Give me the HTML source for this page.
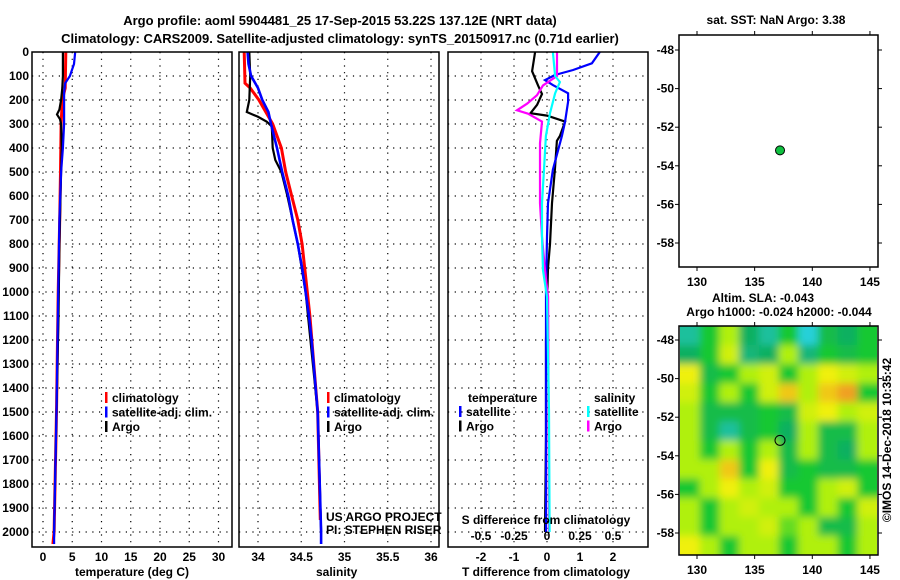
<!DOCTYPE html>
<html><head><meta charset="utf-8"><style>
html,body{margin:0;padding:0;background:#fff;}
svg{display:block;font-family:"Liberation Sans",Arial,sans-serif;}
.b{font-weight:bold;font-size:12px;}
.t{font-weight:bold;font-size:13px;}
</style></head><body>
<svg id="c" width="900" height="580" viewBox="0 0 900 580" xmlns="http://www.w3.org/2000/svg">
<defs>
<filter id="blur" x="0" y="0" width="1" height="1"><feGaussianBlur stdDeviation="4"/></filter>
<clipPath id="mapclip"><rect x="680" y="326" width="197" height="229"/></clipPath>
</defs>
<text class="t" x="340" y="25" text-anchor="middle">Argo profile: aoml 5904481_25 17-Sep-2015 53.22S 137.12E (NRT data)</text>
<text class="t" x="340" y="43" text-anchor="middle">Climatology: CARS2009. Satellite-adjusted climatology: synTS_20150917.nc (0.71d earlier)</text>
<g id="root"></g>
</svg>
<script>
// ---------- data ----------
const depthTicks = [0,100,200,300,400,500,600,700,800,900,1000,1100,1200,1300,1400,1500,1600,1700,1800,1900,2000];
const tempTicks = [0,5,10,15,20,25,30];
const salTicks = [34,34.5,35,35.5,36];
const tdiffTicks = [-2,-1,0,1,2];
const sdiffTicks = [-0.5,-0.25,0,0.25,0.5];
const sdiffLabels = ["-0.5","-0.25","0","0.25","0.5"];

const argoTDepth = [0,50,100,150,200,240,260,280,300,400,500,600,800,1100,1500,2000];
const argoT      = [3.4,3.4,3.4,3.3,3.1,2.8,2.4,2.9,3.1,3.2,3.1,3.0,2.8,2.65,2.3,1.9];
const climTDepth = [0,150,200,300,500,700,1000,1500,2000,2050];
const climT      = [3.9,3.8,3.3,3.1,3.0,2.85,2.6,2.3,1.9,1.7];
const satTDepth  = [0,50,100,130,170,300,400,500,700,1000,1500,2000,2050];
const satT       = [5.5,5.3,4.6,3.8,3.6,3.6,3.4,3.1,2.8,2.6,2.3,1.9,1.9];

const argoSDepth = [0,100,200,250,270,290,310,400,450,500,600,800,1000,1500,2000];
const argoS      = [33.90,33.91,33.90,33.87,34.00,34.10,34.16,34.17,34.20,34.27,34.34,34.46,34.55,34.69,34.73];
const climSDepth = [0,130,150,200,250,300,400,500,600,700,800,900,1000,1100,1500,1950];
const climS      = [33.84,33.85,33.91,34.01,34.09,34.17,34.27,34.32,34.39,34.46,34.51,34.54,34.57,34.60,34.69,34.72];
const satSDepth  = [0,50,100,150,200,250,300,400,500,600,700,800,900,1000,1100,1200,1500,2000,2050];
const satS       = [33.88,33.89,33.92,34.00,34.05,34.12,34.15,34.22,34.28,34.35,34.40,34.46,34.51,34.55,34.59,34.62,34.69,34.73,34.73];

const dArgoTDepth = [0,80,140,175,220,255,265,290,350,370,490,630,800,900,1200,1600,2000];
const dArgoT      = [-0.36,-0.45,-0.27,-0.15,-0.30,-0.50,0.0,0.55,0.39,0.30,0.24,0.15,0.09,0.03,-0.03,-0.03,-0.06];
const dSatTDepth  = [0,47,75,96,117,138,172,207,290,350,490,630,770,1000,1500,2000];
const dSatT       = [1.6,1.36,0.79,0.24,-0.06,0.18,0.64,0.64,0.55,0.45,0.18,0.03,0.0,-0.03,-0.03,-0.03];
const dArgoSDepth = [0,100,139,180,215,243,257,290,380,630,770,910,1020,1500,2000];
const dArgoS      = [0.076,0.076,-0.03,-0.076,-0.15,-0.227,-0.144,-0.038,-0.053,-0.053,-0.038,-0.015,0.008,0.012,0.015];
const dSatSDepth  = [0,100,125,172,255,350,490,630,770,910,1020,1500,2000];
const dSatS       = [0.045,0.061,0.098,0.061,0.023,-0.008,-0.023,-0.038,-0.038,-0.03,0.0,0.015,0.02];

const lonTicks = [130,135,140,145];
const latTicks = [-48,-50,-52,-54,-56,-58];
const floatLon = 137.2, floatLat = -53.2;
const slaGrid = [
 [0.5,2,3,1,0.5,2,0,1.5,1,2],
 [1,2,3.5,0.8,1,3,0.8,2,1.5,2],
 [4,1.5,2,3,3.5,2,3,4,3.5,3],
 [3.5,2,3,2,3.5,4.5,3,4.5,5,2],
 [3,1.5,1.5,1.5,2,1.5,3.5,4,3,3.5],
 [3,1.5,0.5,1.5,2,1,3,1.5,1.5,3],
 [3,2,3,2,3,1.5,3,1.5,1,3],
 [3,3,4.5,2,4,1.5,2,1.5,1.5,2],
 [2,3,4,3,3.5,2,2,3,3.5,2],
 [3,2,3,3.5,3,3,2,3,2,3.5],
 [3,2,3,3,3.5,2.5,3,1.5,1.5,3],
 [4,3,2,3,3,2,3,3,2,3]
];

// ---------- drawing ----------
const NS='http://www.w3.org/2000/svg';
const root=document.getElementById('root');
function mk(tag,attrs,parent){const e=document.createElementNS(NS,tag);for(const k in attrs)e.setAttribute(k,attrs[k]);(parent||root).appendChild(e);return e;}
function txt(x,y,s,cls,anchor,parent){const e=mk('text',{x:x,y:y,'class':cls||'b','text-anchor':anchor||'middle'},parent);e.textContent=s;return e;}

const PT=52, PB=547;
const yD=d=>PT+d*0.24;
const xT=t=>43+5.85*t;
const xS=s=>258+86.5*(s-34);
const xDT=v=>547+33*v;
const xDS=v=>547+132*v;

function panel(x0,name){
  const g=mk('g',{});
  
  
  depthTicks.forEach(d=>{ if(d>0) mk('line',{x1:x0,x2:x0+200,y1:yD(d),y2:yD(d),stroke:'#000','stroke-width':1.2,'stroke-dasharray':'1.2 5.5'},g);});
  return g;
}
function frame(x0,g){mk('rect',{x:x0,y:PT,width:200,height:PB-PT,fill:'none',stroke:'#000','stroke-width':1.5},g);}
function line(depths,vals,xf,color,name,g,w){
  const pts=depths.map((d,i)=>xf(vals[i]).toFixed(1)+','+yD(d).toFixed(1)).join(' ');
  const p=mk('polyline',{points:pts,fill:'none',stroke:color,'stroke-width':w||2.2},g);
  
  
}
function vgrid(xs,g){xs.forEach(x=>mk('line',{x1:x,x2:x,y1:PT,y2:PB,stroke:'#000','stroke-width':1.2,'stroke-dasharray':'1.2 5.5'},g));}

// panel 1 temperature
const g1=panel(32,'temperature-panel');
vgrid(tempTicks.map(xT),g1);
line(climTDepth,climT,xT,'#f00','temp-climatology-line',g1,3);
line(argoTDepth,argoT,xT,'#000','temp-argo-line',g1);
line(satTDepth,satT,xT,'#00f','temp-satellite-line',g1);
frame(32,g1);
depthTicks.forEach(d=>{const e=txt(29,yD(d)+4,String(d),'b','end',g1);});
tempTicks.forEach(t=>{const e=txt(xT(t),561,String(t),'b','middle',g1);});
txt(132,576,'temperature (deg C)','b','middle',g1);
function legend(x,y,items,g){
  const lg=mk('g',{},g);
  
  
  items.forEach((it,i)=>{
    mk('rect',{x:x,y:y+i*14.5-10,width:2.5,height:11,fill:it[0]},lg);
    txt(x+7,y+i*14.5,it[1],'b','start',lg);
  });
}
legend(105,402,[['#f00','climatology'],['#00f','satellite-adj. clim.'],['#000','Argo']],g1);

// panel 2 salinity
const g2=panel(239,'salinity-panel');
vgrid(salTicks.map(xS),g2);
line(climSDepth,climS,xS,'#f00','sal-climatology-line',g2,3);
line(argoSDepth,argoS,xS,'#000','sal-argo-line',g2);
line(satSDepth,satS,xS,'#00f','sal-satellite-line',g2,2.6);
frame(239,g2);
salTicks.forEach(s=>{const e=txt(xS(s),561,String(s),'b','middle',g2);});
txt(316,576,'salinity','b','start',g2);
legend(327,402,[['#f00','climatology'],['#00f','satellite-adj. clim.'],['#000','Argo']],g2);
txt(326,521,'US ARGO PROJECT','','start',g2).setAttribute('font-size','11.5');
txt(326,534,'PI: STEPHEN RISER','','start',g2).setAttribute('font-size','11.5');

// panel 3 differences
const g3=panel(448,'difference-panel');
vgrid(tdiffTicks.map(xDT),g3);
line(dArgoTDepth,dArgoT,xDT,'#000','tdiff-argo-line',g3);
line(dSatTDepth,dSatT,xDT,'#00f','tdiff-satellite-line',g3);
line(dArgoSDepth,dArgoS,xDS,'#f0f','sdiff-argo-line',g3);
line(dSatSDepth,dSatS,xDS,'#0ff','sdiff-satellite-line',g3);
frame(448,g3);
tdiffTicks.forEach(v=>{const e=txt(xDT(v),561,String(v),'b','middle',g3);});
sdiffTicks.forEach((v,i)=>{const e=txt(xDS(v),540,sdiffLabels[i],'b','middle',g3);});
txt(546,524,'S difference from climatology','b','middle',g3);
txt(546,576,'T difference from climatology','b','middle',g3);
txt(468,402,'temperature','b','start',g3);
legend(459,416,[['#00f','satellite'],['#000','Argo']],g3);
txt(594,402,'salinity','b','start',g3);
legend(587,416,[['#0ff','satellite'],['#f0f','Argo']],g3);

// maps
const xL=lon=>697+(lon-130)*11.53;
function mapAxes(top,bottom,latY,g,lblY){
  mk('rect',{x:679,y:top,width:199,height:bottom-top,fill:'none',stroke:'#000','stroke-width':1.5},g);
  lonTicks.forEach(l=>{
    mk('line',{x1:xL(l),x2:xL(l),y1:top,y2:top-4,stroke:'#000'},g);
    mk('line',{x1:xL(l),x2:xL(l),y1:bottom,y2:bottom+4,stroke:'#000'},g);
    txt(xL(l),lblY,String(l),'b','middle',g);
  });
  latTicks.forEach(l=>{
    mk('line',{x1:679,x2:675,y1:latY(l),y2:latY(l),stroke:'#000'},g);
    mk('line',{x1:878,x2:882,y1:latY(l),y2:latY(l),stroke:'#000'},g);
    txt(674,latY(l)+4,String(l),'b','end',g);
  });
}
const gm1=mk('g',{});


const yLat1=l=>50+(-48-l)*19.3;
mapAxes(35,267,yLat1,gm1,286);
mk('circle',{cx:xL(floatLon),cy:yLat1(floatLat),r:4.5,fill:'#10c040',stroke:'#000','stroke-width':1},gm1);
txt(776,24,'sat. SST: NaN Argo: 3.38','b','middle',gm1);
txt(763,302,'Altim. SLA: -0.043','b','middle',gm1);
txt(779,316,'Argo h1000: -0.024 h2000: -0.044','b','middle',gm1);

const gm2=mk('g',{});


const yLat2=l=>340+(-48-l)*19.3;
const ramp=['#28d0d8','#10b060','#18c830','#b0f010','#f0f010','#f0a020'];
function col(v){const i=Math.min(4,Math.floor(v));const f=v-i;
  const a=ramp[i],b=ramp[i+1];const p=(h,k)=>parseInt(h.substr(k,2),16);
  const c=[1,3,5].map(k=>Math.round(p(a,k)*(1-f)+p(b,k)*f));return 'rgb('+c.join(',')+')';}
const cells=mk('g',{'clip-path':'url(#mapclip)'},gm2);
const inner=mk('g',{filter:'url(#blur)'},cells);
const nr=slaGrid.length,nc=slaGrid[0].length,cw=197/nc,ch=229/nr;
mk('rect',{x:660,y:306,width:240,height:270,fill:'#70d828'},inner);
slaGrid.forEach((row,r)=>row.forEach((v,c)=>{
  const e=mk('rect',{x:680+c*cw-(c==0?20:0),y:326+r*ch-(r==0?20:0),width:cw+0.5+(c==0||c==nc-1?20:0),height:ch+0.5+(r==0||r==nr-1?20:0),fill:col(v)},inner);
  
  
}));
mapAxes(326,555,yLat2,gm2,574);
mk('circle',{cx:xL(floatLon),cy:yLat2(floatLat),r:5,fill:'none',stroke:'#000','stroke-width':1},gm2);
const cr=txt(0,0,'©IMOS 14-Dec-2018 10:35:42','','middle',gm2);
cr.setAttribute('font-size','12');
cr.setAttribute('transform','translate(891,440) rotate(-90)');

</script>
</body></html>
